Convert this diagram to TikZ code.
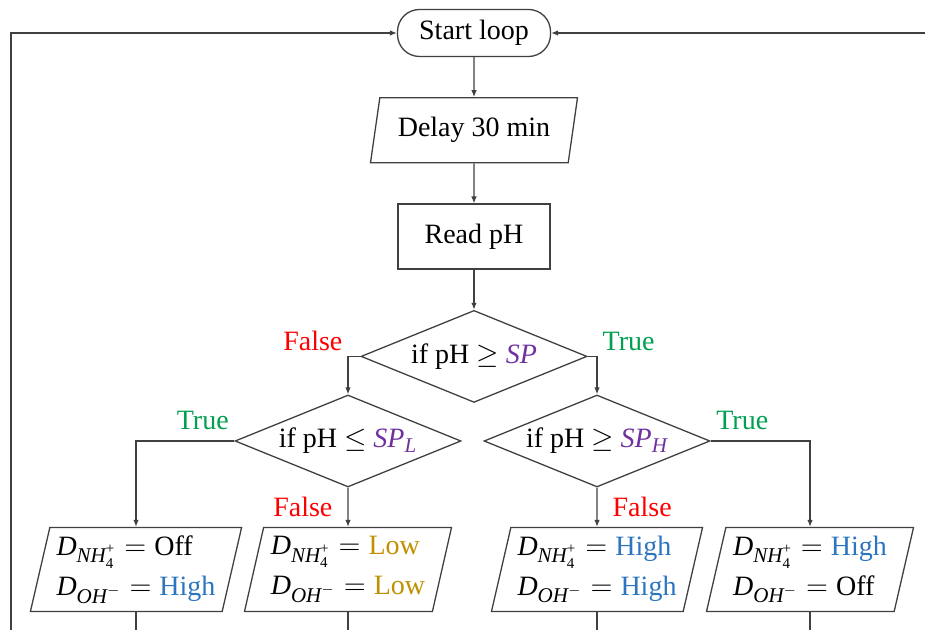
\documentclass[tikz,border=0pt]{standalone}
\usepackage{amsmath}
\usepackage{fontspec}
\setmainfont{Liberation Serif}
\usetikzlibrary{positioning,shapes.geometric,arrows.meta}
\DeclareMathSizes{14}{14}{10.5}{7.5}
\definecolor{falsered}{HTML}{FF0000}
\definecolor{truegreen}{HTML}{00A050}
\definecolor{setpurple}{HTML}{7030A0}
\definecolor{highblue}{HTML}{2E75C0}
\definecolor{lowgold}{HTML}{C09000}
\definecolor{edgegray}{HTML}{404040}
\newcommand{\dnh}{$\textit{D}_{\textit{NH}_{\text{4}}^{\text{+}}}={}$}
\newcommand{\doh}{$\textit{D}_{\textit{OH}^{-}}={}$}
\newcommand{\setp}[1]{\textcolor{setpurple}{\textit{SP}$_{\textit{#1}}$}}

\begin{document}
\begin{tikzpicture}[
    x=0.5pt, y=-0.5pt,
    node distance=20pt,
    every node/.style={font=\fontsize{14}{20}\selectfont},
    term/.style={draw=edgegray, line width=0.65pt, rounded corners=11pt,
      minimum width=76.5pt, minimum height=23.5pt},
    proc/.style={draw=edgegray, line width=0.65pt,
      minimum width=76pt, minimum height=32.5pt},
    io/.style={trapezium, trapezium left angle=76.5, trapezium right angle=103.5,
      trapezium stretches body=true, draw=edgegray, line width=0.65pt,
      minimum width=103.5pt, align=left},
    cond/.style={diamond, draw=edgegray, line width=0.65pt, aspect=2.45,
      inner sep=0pt, minimum width=113pt, minimum height=46pt},
    flow/.style={draw=edgegray, line width=0.65pt},
    arrow/.style={flow, -{Latex[length=3.5pt,width=2.8pt]}},
    yes/.style={text=truegreen, inner sep=2.5pt},
    no/.style={text=falsered, inner sep=2.5pt}
  ]
  \useasboundingbox (0,0) rectangle (925,630);

  \node[term] (start) at (474,33) {Start loop};
  \node[io, minimum height=32.5pt, below=of start] (delay) {Delay 30 min};
  \node[proc, below=of delay] (read) {Read pH};
  \node[cond, below=of read] (chk) {if pH $\geq$ \textcolor{setpurple}{\textit{SP}}};
  \node[cond] (chklow) at (348,441) {if pH $\leq$ \setp{L}};
  \node[cond] (chkhigh) at (597,441) {if pH $\geq$ \setp{H}};

  \node[io, minimum height=42pt] (offhigh) at (136,569.5)
    {\dnh Off\\\doh\textcolor{highblue}{High}};
  \node[io, minimum height=42pt] (lowlow) at (348,569.5)
    {\dnh\textcolor{lowgold}{Low}\\\doh\textcolor{lowgold}{Low}};
  \node[io, minimum height=42pt] (highhigh) at (597,569.5)
    {\dnh\textcolor{highblue}{High}\\\doh\textcolor{highblue}{High}};
  \node[io, minimum height=42pt] (highoff) at (810,569.5)
    {\dnh\textcolor{highblue}{High}\\\doh Off};

  \coordinate (floor) at (0,630);
  \coordinate (leftrail) at (11,630);
  \coordinate (rightrail) at (925,33);

  \draw[arrow] (start) -- (delay);
  \draw[arrow] (delay) -- (read);
  \draw[arrow] (read) -- (chk);
  \draw[arrow] (chk.west) -| node[no, above left] {False} (chklow.north);
  \draw[arrow] (chk.east) -| node[yes, above right] {True} (chkhigh.north);
  \draw[arrow] (chklow.west) node[yes, above left, yshift=3pt] {True} -| (offhigh.north);
  \draw[arrow] (chklow.south) -- node[no, left, xshift=-5pt] {False} (lowlow.north);
  \draw[arrow] (chkhigh.south) -- node[no, right, xshift=5pt] {False} (highhigh.north);
  \draw[arrow] (chkhigh.east) node[yes, above right, yshift=3pt] {True} -| (highoff.north);

  \foreach \b in {offhigh,lowlow,highhigh,highoff}
    \draw[flow] (\b.south) -- (\b.south |- floor);
  \draw[arrow] (leftrail) |- (start.west);
  \draw[arrow] (rightrail) -- (start.east);
\end{tikzpicture}
\end{document}
